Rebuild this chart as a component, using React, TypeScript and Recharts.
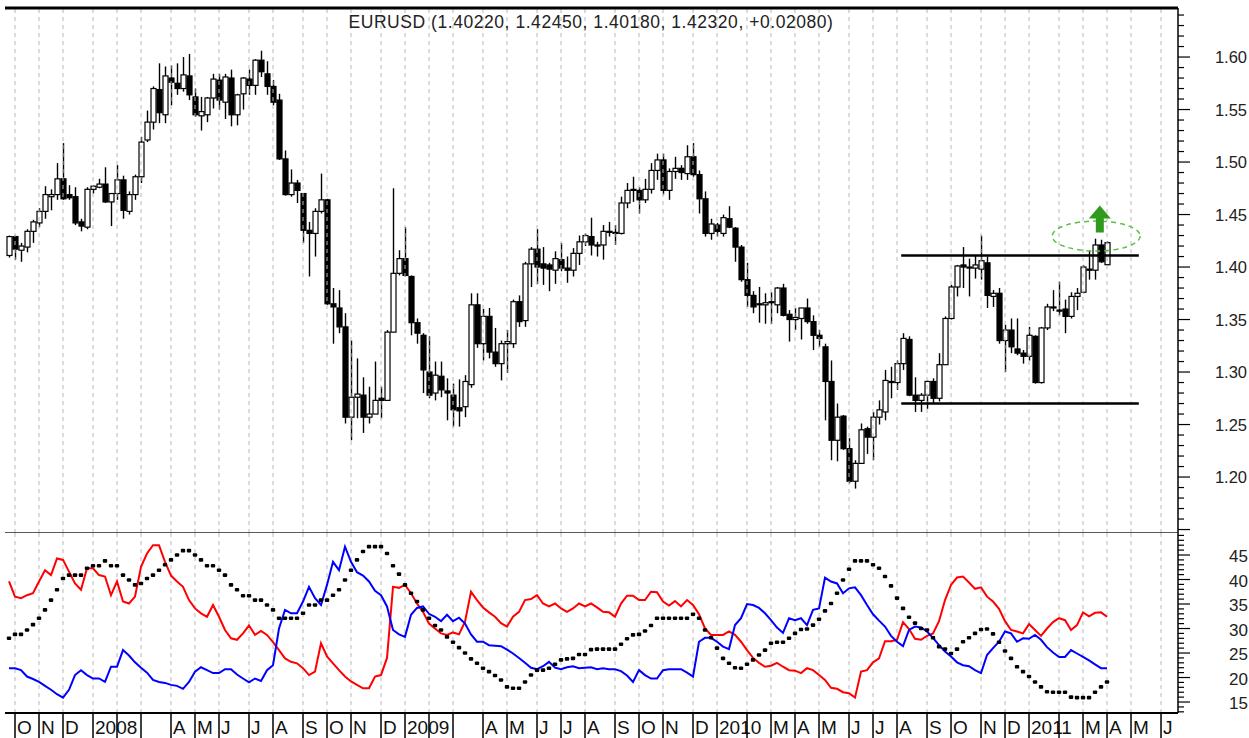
import React from 'react';
import { ComposedChart, Bar, Line, XAxis, YAxis, ReferenceLine, ReferenceDot } from 'recharts';

// weekly EURUSD bars, first bar = week of 2007-09-24
const START = Date.UTC(2007, 8, 24);
const DAY = 24 * 3600 * 1000;

const opens = [
  1.411, 1.429, 1.416, 1.419, 1.434, 1.442, 1.453, 1.467, 1.469, 1.484,
  1.469, 1.467, 1.443, 1.438, 1.474, 1.476, 1.479, 1.462, 1.470, 1.483,
  1.453, 1.469, 1.486, 1.521, 1.538, 1.569, 1.545, 1.580, 1.575, 1.570,
  1.582, 1.562, 1.544, 1.545, 1.561, 1.578, 1.557, 1.580, 1.545, 1.565,
  1.579, 1.573, 1.597, 1.584, 1.572, 1.559, 1.503, 1.469, 1.480, 1.470,
  1.435, 1.432, 1.453, 1.464, 1.365, 1.361, 1.343, 1.257, 1.276, 1.278,
  1.257, 1.260, 1.275, 1.273, 1.338, 1.394, 1.408, 1.391, 1.347, 1.335,
  1.300, 1.280, 1.296, 1.282, 1.278, 1.266, 1.267, 1.288, 1.364, 1.327,
  1.353, 1.319, 1.308, 1.327, 1.327, 1.367, 1.349, 1.403, 1.417, 1.403,
  1.402, 1.397, 1.407, 1.399, 1.397, 1.413, 1.424, 1.429, 1.421, 1.421,
  1.433, 1.433, 1.432, 1.461, 1.474, 1.473, 1.464, 1.474, 1.492, 1.502,
  1.473, 1.491, 1.494, 1.489, 1.505, 1.488, 1.465, 1.432, 1.440, 1.432,
  1.446, 1.437, 1.419, 1.388, 1.373, 1.365, 1.364, 1.366, 1.364, 1.380,
  1.355, 1.350, 1.351, 1.361, 1.348, 1.335, 1.324, 1.291, 1.235, 1.258,
  1.227, 1.196, 1.213, 1.246, 1.238, 1.257, 1.262, 1.291, 1.290, 1.308,
  1.331, 1.278, 1.273, 1.278, 1.291, 1.275, 1.307, 1.351, 1.381, 1.402,
  1.400, 1.399, 1.398, 1.404, 1.372, 1.375, 1.330, 1.340, 1.322, 1.318,
  1.315, 1.334, 1.290, 1.342, 1.362, 1.359, 1.360, 1.353, 1.372, 1.376,
  1.398, 1.397, 1.421, 1.4022,
];
const highs = [
  1.430, 1.430, 1.423, 1.436, 1.445, 1.456, 1.477, 1.474, 1.499, 1.518,
  1.478, 1.476, 1.446, 1.476, 1.478, 1.484, 1.495, 1.470, 1.497, 1.487,
  1.472, 1.488, 1.524, 1.549, 1.572, 1.594, 1.591, 1.592, 1.594, 1.600,
  1.603, 1.570, 1.562, 1.562, 1.584, 1.584, 1.584, 1.588, 1.565, 1.581,
  1.588, 1.598, 1.606, 1.596, 1.578, 1.565, 1.511, 1.493, 1.483, 1.470,
  1.443, 1.456, 1.489, 1.465, 1.380, 1.378, 1.356, 1.330, 1.313, 1.295,
  1.286, 1.310, 1.286, 1.340, 1.475, 1.416, 1.438, 1.392, 1.351, 1.337,
  1.334, 1.310, 1.310, 1.294, 1.289, 1.293, 1.297, 1.375, 1.375, 1.360,
  1.361, 1.342, 1.330, 1.340, 1.369, 1.373, 1.405, 1.419, 1.436, 1.419,
  1.404, 1.415, 1.423, 1.410, 1.418, 1.430, 1.432, 1.447, 1.424, 1.440,
  1.443, 1.440, 1.467, 1.480, 1.486, 1.476, 1.484, 1.499, 1.508, 1.508,
  1.494, 1.505, 1.497, 1.516, 1.518, 1.492, 1.472, 1.446, 1.442, 1.450,
  1.458, 1.438, 1.421, 1.404, 1.377, 1.381, 1.375, 1.376, 1.381, 1.384,
  1.359, 1.361, 1.361, 1.370, 1.354, 1.340, 1.327, 1.311, 1.270, 1.259,
  1.237, 1.216, 1.251, 1.248, 1.262, 1.273, 1.302, 1.305, 1.311, 1.337,
  1.334, 1.295, 1.280, 1.292, 1.294, 1.318, 1.353, 1.383, 1.402, 1.419,
  1.408, 1.411, 1.430, 1.410, 1.378, 1.380, 1.345, 1.351, 1.351, 1.321,
  1.343, 1.335, 1.343, 1.365, 1.378, 1.386, 1.369, 1.376, 1.380, 1.402,
  1.416, 1.427, 1.426, 1.4245,
];
const lows = [
  1.409, 1.407, 1.405, 1.414, 1.423, 1.438, 1.446, 1.454, 1.464, 1.464,
  1.464, 1.440, 1.434, 1.436, 1.470, 1.475, 1.461, 1.439, 1.464, 1.446,
  1.450, 1.464, 1.480, 1.519, 1.531, 1.537, 1.537, 1.554, 1.564, 1.567,
  1.559, 1.543, 1.530, 1.538, 1.551, 1.550, 1.541, 1.534, 1.535, 1.550,
  1.564, 1.564, 1.581, 1.564, 1.554, 1.502, 1.468, 1.467, 1.461, 1.423,
  1.391, 1.410, 1.451, 1.364, 1.327, 1.337, 1.251, 1.235, 1.256, 1.242,
  1.251, 1.260, 1.256, 1.273, 1.338, 1.392, 1.391, 1.335, 1.327, 1.280,
  1.275, 1.273, 1.276, 1.254, 1.248, 1.248, 1.257, 1.285, 1.323, 1.311,
  1.313, 1.305, 1.292, 1.299, 1.323, 1.343, 1.343, 1.381, 1.384, 1.383,
  1.377, 1.384, 1.396, 1.385, 1.391, 1.402, 1.420, 1.411, 1.410, 1.407,
  1.429, 1.421, 1.431, 1.456, 1.462, 1.451, 1.461, 1.470, 1.483, 1.469,
  1.464, 1.484, 1.483, 1.483, 1.486, 1.451, 1.429, 1.426, 1.429, 1.429,
  1.437, 1.405, 1.386, 1.362, 1.356, 1.347, 1.346, 1.346, 1.356, 1.353,
  1.329, 1.340, 1.331, 1.346, 1.321, 1.324, 1.254, 1.216, 1.215, 1.226,
  1.194, 1.189, 1.213, 1.222, 1.216, 1.250, 1.254, 1.275, 1.283, 1.302,
  1.277, 1.262, 1.262, 1.265, 1.270, 1.272, 1.307, 1.350, 1.372, 1.380,
  1.372, 1.389, 1.388, 1.361, 1.362, 1.327, 1.300, 1.318, 1.316, 1.308,
  1.311, 1.289, 1.289, 1.340, 1.358, 1.354, 1.337, 1.351, 1.359, 1.375,
  1.388, 1.388, 1.404, 1.4018,
];
const closes = [
  1.429, 1.417, 1.420, 1.434, 1.443, 1.453, 1.469, 1.469, 1.484, 1.465,
  1.466, 1.442, 1.439, 1.474, 1.477, 1.479, 1.462, 1.470, 1.483, 1.454,
  1.469, 1.486, 1.519, 1.538, 1.570, 1.547, 1.582, 1.576, 1.570, 1.583,
  1.564, 1.545, 1.548, 1.561, 1.579, 1.559, 1.581, 1.545, 1.564, 1.580,
  1.573, 1.597, 1.586, 1.572, 1.557, 1.503, 1.469, 1.480, 1.473, 1.435,
  1.432, 1.453, 1.464, 1.365, 1.362, 1.343, 1.257, 1.276, 1.279, 1.257,
  1.260, 1.273, 1.273, 1.338, 1.394, 1.408, 1.392, 1.347, 1.337, 1.302,
  1.278, 1.297, 1.283, 1.280, 1.264, 1.263, 1.291, 1.364, 1.327, 1.353,
  1.319, 1.308, 1.327, 1.329, 1.367, 1.348, 1.403, 1.417, 1.400, 1.399,
  1.398, 1.408, 1.399, 1.397, 1.413, 1.424, 1.430, 1.421, 1.420, 1.434,
  1.434, 1.432, 1.461, 1.473, 1.473, 1.464, 1.474, 1.492, 1.502, 1.473,
  1.491, 1.494, 1.490, 1.505, 1.488, 1.465, 1.432, 1.441, 1.434, 1.447,
  1.438, 1.419, 1.388, 1.373, 1.362, 1.364, 1.366, 1.367, 1.380, 1.354,
  1.350, 1.352, 1.361, 1.348, 1.335, 1.332, 1.291, 1.235, 1.257, 1.227,
  1.196, 1.213, 1.245, 1.238, 1.257, 1.264, 1.292, 1.290, 1.308, 1.332,
  1.278, 1.273, 1.278, 1.291, 1.275, 1.307, 1.351, 1.381, 1.401, 1.400,
  1.399, 1.402, 1.406, 1.373, 1.375, 1.330, 1.340, 1.324, 1.318, 1.315,
  1.335, 1.290, 1.342, 1.362, 1.361, 1.358, 1.353, 1.372, 1.375, 1.400,
  1.397, 1.421, 1.405, 1.4232,
];

// directional movement indicator (weekly)
const plusDI = [
  39.6, 36.5, 36.2, 36.8, 37.2, 39.6, 41.9, 40.9, 44.3, 44.0,
  41.6, 39.2, 37.9, 42.3, 42.3, 40.9, 40.6, 36.8, 39.6, 35.5,
  35.1, 36.5, 42.6, 45.3, 47.0, 47.0, 43.6, 40.8, 39.6, 38.5,
  35.8, 34.1, 33.1, 32.4, 34.8, 32.4, 29.7, 28.0, 27.7, 29.0,
  30.6, 28.7, 29.5, 28.7, 27.2, 25.6, 23.9, 23.2, 22.9, 21.9,
  20.5, 21.2, 27.0, 24.3, 22.9, 21.5, 20.2, 19.2, 18.5, 17.8,
  17.8, 20.2, 20.5, 24.0, 38.5, 38.3, 38.9, 37.2, 35.1, 33.4,
  31.0, 30.0, 29.0, 28.7, 29.2, 28.8, 31.4, 37.5, 35.8, 34.3,
  33.3, 32.4, 31.1, 30.4, 32.4, 33.4, 35.8, 36.0, 36.8, 35.1,
  34.5, 35.1, 34.1, 33.4, 34.1, 35.1, 34.5, 35.1, 34.3, 33.4,
  33.3, 32.4, 35.1, 36.7, 36.7, 35.8, 35.8, 37.5, 37.4, 35.5,
  34.7, 35.6, 34.5, 35.8, 34.8, 32.9, 30.0, 28.7, 28.7, 28.7,
  29.4, 28.7, 27.3, 25.6, 24.0, 23.0, 22.2, 22.4, 23.0, 22.2,
  21.5, 21.4, 20.9, 21.9, 21.5, 20.5, 19.5, 17.9, 17.7, 17.0,
  16.8, 15.9, 21.2, 21.5, 23.1, 23.9, 27.4, 27.4, 27.7, 31.3,
  29.9, 27.9, 27.7, 28.5, 29.0, 31.5, 35.8, 38.9, 40.4, 40.6,
  39.4, 38.1, 38.4, 36.5, 35.5, 34.0, 31.5, 29.7, 29.4, 29.0,
  30.9, 29.7, 28.5, 30.0, 31.3, 32.1, 31.7, 29.7, 30.7, 33.3,
  32.5, 33.2, 33.3, 32.4,
];
const minusDI = [
  21.9, 21.9, 21.5, 20.2, 19.7, 19.1, 18.3, 17.5, 16.6, 15.9,
  17.5, 20.5, 21.5, 20.5, 19.8, 19.8, 19.1, 22.2, 22.2, 25.6,
  24.5, 23.1, 22.0, 21.0, 19.5, 19.1, 18.9, 18.5, 18.3, 17.7,
  19.1, 21.2, 22.1, 21.5, 20.9, 20.9, 21.7, 21.7, 20.6, 19.8,
  19.0, 19.8, 19.3, 21.5, 22.5, 30.0, 33.8, 33.1, 33.1, 35.5,
  38.5, 36.2, 34.8, 38.9, 43.6, 41.9, 46.7, 43.6, 41.5, 40.8,
  39.6, 37.7, 36.8, 34.5, 29.7, 28.8, 28.3, 32.8, 34.2, 34.5,
  33.0, 32.4, 31.5, 32.8, 31.5, 32.2, 31.0, 28.8, 27.3, 27.3,
  26.6, 26.5, 26.4, 25.7, 24.9, 24.0, 23.0, 22.0, 21.7, 22.3,
  23.2, 22.0, 21.7, 22.1, 22.3, 21.9, 22.0, 22.1, 21.7, 21.9,
  21.7, 21.7, 21.3, 20.4, 19.1, 21.5, 20.5, 19.8, 19.8, 21.5,
  21.7, 21.7, 21.7, 21.0, 20.2, 27.3, 28.1, 28.1, 27.3, 26.3,
  25.8, 30.7, 32.1, 35.0, 34.8, 34.2, 33.1, 31.7, 30.2, 29.1,
  32.1, 31.7, 32.1, 30.7, 33.8, 34.1, 40.4, 39.6, 39.2, 37.2,
  38.2, 38.4, 36.8, 34.8, 32.9, 31.6, 30.4, 28.5, 27.3, 26.4,
  29.7, 30.4, 30.2, 29.4, 28.1, 26.6, 25.3, 24.3, 23.1, 22.5,
  22.3, 21.5, 20.9, 24.6, 26.0, 27.3, 29.4, 29.0, 27.3, 28.0,
  27.9, 28.7, 27.7, 26.2, 25.1, 24.2, 24.2, 25.6, 24.9, 24.2,
  23.5, 22.7, 21.9, 21.9,
];
const adx = [
  28.0, 28.8, 28.8, 29.7, 30.8, 32.1, 33.8, 35.8, 37.9, 40.2,
  40.9, 40.9, 40.9, 42.3, 42.8, 42.8, 43.8, 42.8, 42.8, 40.9,
  39.9, 38.9, 39.2, 40.2, 40.9, 41.9, 43.0, 44.0, 45.0, 45.9,
  45.9, 45.0, 44.0, 42.8, 42.8, 41.9, 40.9, 38.9, 37.9, 36.7,
  36.7, 35.8, 35.8, 34.8, 33.8, 32.1, 32.1, 32.1, 32.1, 33.1,
  34.8, 34.8, 35.8, 35.8, 36.8, 37.9, 39.9, 41.9, 44.0, 45.7,
  46.7, 46.7, 46.7, 45.3, 42.8, 41.1, 38.9, 37.2, 35.5, 33.8,
  32.1, 30.6, 29.7, 28.3, 27.2, 26.1, 25.0, 23.8, 22.9, 21.9,
  21.2, 20.4, 19.5, 18.1, 17.8, 17.8, 19.1, 20.5, 21.5, 21.5,
  21.9, 22.7, 23.6, 23.8, 23.9, 24.7, 24.7, 25.7, 25.8, 25.8,
  25.8, 25.8, 26.8, 27.9, 28.7, 28.8, 29.5, 30.6, 32.1, 32.1,
  32.1, 32.1, 32.1, 32.1, 32.9, 32.1, 29.7, 28.1, 26.0, 23.9,
  22.9, 22.0, 21.9, 22.7, 23.6, 24.6, 25.6, 27.0, 27.2, 27.2,
  28.0, 29.0, 29.8, 29.9, 30.7, 31.9, 33.6, 35.1, 37.2, 39.9,
  42.1, 43.8, 43.8, 43.8, 43.0, 42.3, 40.6, 38.7, 36.2, 34.1,
  32.3, 31.1, 30.0, 29.7, 28.1, 26.3, 25.8, 24.9, 25.8, 27.3,
  28.1, 29.0, 29.8, 29.9, 28.9, 27.2, 25.4, 23.9, 22.2, 21.2,
  20.2, 19.1, 18.1, 17.1, 17.0, 17.0, 17.0, 16.0, 15.9, 15.9,
  15.9, 17.0, 18.1, 19.1,
];

// month strip labels, Oct 2007 .. Jun 2011 (blank where the label is suppressed)
const monthLabels = [
  'O', 'N', 'D',
  '2008', '', '', 'A', 'M', 'J', 'J', 'A', 'S', 'O', 'N', 'D',
  '2009', '', '', 'A', 'M', 'J', 'J', 'A', 'S', 'O', 'N', 'D',
  '2010', '', 'M', 'A', 'M', 'J', 'J', 'A', 'S', 'O', 'N', 'D',
  '2011', '', 'M', 'A', 'M', 'J',
];

const titleText = 'EURUSD (1.40220, 1.42450, 1.40180, 1.42320, +0.02080)';

// trading range + breakout annotation
const rangeTop = 1.411;
const rangeBottom = 1.270;
const rangeFrom = 149.7;
const rangeTo = 189.3;

const rows = opens.map((o, k) => ({
  i: k + 1,
  open: o,
  high: highs[k],
  low: lows[k],
  close: closes[k],
  range: [lows[k], highs[k]],
  plusDI: plusDI[k],
  minusDI: minusDI[k],
  adx: adx[k],
}));

// a month starts on the first weekly bar whose Sunday falls inside it
const monthStarts: number[] = [];
{
  let prev = -1;
  for (let i = 1; i <= 195; i++) {
    const m = new Date(START + ((i - 1) * 7 + 6) * DAY).getUTCMonth();
    if (prev !== -1 && m !== prev) monthStarts.push(i);
    prev = m;
  }
}
const labelAt: Record<number, string> = {};
monthStarts.forEach((t, k) => { labelAt[t] = monthLabels[k] ?? ''; });

const X_DOMAIN: [number, number] = [1 / 3, 195.83];
const P_DOMAIN: [number, number] = [1.1467, 1.6467];
const I_DOMAIN: [number, number] = [12.76, 49.49];

const priceTicks: number[] = [];
for (let c = 115; c <= 164; c++) priceTicks.push(c / 100);
const indTicks: number[] = [];
for (let v = 13; v <= 49; v++) indTicks.push(v);

const FONT = '"Liberation Sans", Arial, sans-serif';

function Candle(props: any) {
  const { x, y, width, height, payload } = props;
  if (x == null || !payload) return null;
  const top = Math.min(y, y + height);
  const h = Math.abs(height);
  const { open, close, high, low } = payload;
  const k = high === low ? 0 : h / (high - low);
  const yOf = (v: number) => top + (high - v) * k;
  const cx = x + width / 2;
  const up = close >= open;
  const bTop = yOf(Math.max(open, close));
  const bBot = yOf(Math.min(open, close));
  return (
    <g>
      <line x1={cx} x2={cx} y1={top} y2={top + h} stroke="#000" strokeWidth={1.4} />
      <rect
        x={cx - 2.5}
        y={bTop}
        width={5}
        height={Math.max(bBot - bTop, 1)}
        fill={up ? '#fff' : '#000'}
        stroke="#000"
        strokeWidth={1.2}
      />
    </g>
  );
}

function PriceTick({ x, y, payload }: any) {
  const c = Math.round(payload.value * 100);
  const major = c % 5 === 0;
  return (
    <g>
      <line x1={x} x2={x + (major ? 12 : 6)} y1={y} y2={y} stroke="#000" strokeWidth={1.2} />
      {major && c >= 120 && c <= 160 && (
        <text x={x + 69} y={y + 6} textAnchor="end" fontSize={16.5} fontFamily={FONT} fill="#222">
          {payload.value.toFixed(2)}
        </text>
      )}
    </g>
  );
}

function IndTick({ x, y, payload }: any) {
  const v = payload.value;
  const major = v % 5 === 0;
  return (
    <g>
      <line x1={x} x2={x + (major ? 12 : 6)} y1={y} y2={y} stroke="#000" strokeWidth={1.2} />
      {major && v >= 15 && v <= 45 && (
        <text x={x + 70} y={y + 7} textAnchor="end" fontSize={17} fontFamily={FONT} fill="#222">
          {v}
        </text>
      )}
    </g>
  );
}

function MonthTick({ x, y, payload }: any) {
  return (
    <g>
      <text x={x + 2} y={y + 21} fontSize={19} fontFamily={FONT} fill="#111">
        {labelAt[payload.value]}
      </text>
      <line x1={x} x2={x} y1={y} y2={y + 25} stroke="#000" strokeWidth={1.5} />
    </g>
  );
}

const AdxDot = (p: any) =>
  p.cx == null || p.cy == null ? null : (
    <rect key={`adx-${p.index}`} x={p.cx - 2.2} y={p.cy - 1.8} width={4.4} height={3.6} rx={1} fill="#000" />
  );

const BreakoutRing = (p: any) => (
  <ellipse cx={p.cx} cy={p.cy} rx={44} ry={15} fill="none" stroke="#5cc043" strokeWidth={1.5} strokeDasharray="5 4" />
);

const BreakoutArrow = (p: any) => (
  <polygon
    points={`${p.cx},${p.cy - 13} ${p.cx + 11},${p.cy} ${p.cx + 4},${p.cy} ${p.cx + 4},${p.cy + 14} ${p.cx - 4},${p.cy + 14} ${p.cx - 4},${p.cy} ${p.cx - 11},${p.cy}`}
    fill="#2f9a1e"
  />
);

export default function App() {
  const grid = monthStarts.map((t) => (
    <ReferenceLine key={`g${t}`} x={t} stroke="#b8b8b8" strokeWidth={1} strokeDasharray="4 4" />
  ));
  return (
    <div style={{ position: 'absolute', left: 0, top: 0, width: 1249, height: 738, background: '#fff', overflow: 'hidden' }}>
      <ComposedChart width={1249} height={533} data={rows} margin={{ top: 8, right: 0, bottom: 0, left: 5 }}>
        <XAxis dataKey="i" type="number" domain={X_DOMAIN} hide allowDataOverflow />
        <YAxis
          orientation="right"
          domain={P_DOMAIN}
          ticks={priceTicks}
          interval={0}
          width={71}
          tick={<PriceTick />}
          tickLine={false}
          tickSize={0}
          tickMargin={0}
          axisLine={{ stroke: '#000', strokeWidth: 1.5 }}
          allowDataOverflow
        />
        {grid}
        <ReferenceLine y={P_DOMAIN[1]} stroke="#000" strokeWidth={3} />
        <ReferenceLine y={P_DOMAIN[0]} stroke="#222" strokeWidth={1.5} />
        <Bar dataKey="range" barSize={5} shape={<Candle />} isAnimationActive={false} />
        <ReferenceLine segment={[{ x: rangeFrom, y: rangeTop }, { x: rangeTo, y: rangeTop }]} stroke="#000" strokeWidth={2.5} />
        <ReferenceLine segment={[{ x: rangeFrom, y: rangeBottom }, { x: rangeTo, y: rangeBottom }]} stroke="#000" strokeWidth={2.5} />
        <ReferenceDot x={182.2} y={1.4295} shape={BreakoutRing} />
        <ReferenceDot x={182.8} y={1.4462} shape={BreakoutArrow} />
      </ComposedChart>
      <div style={{ position: 'absolute', left: 0, top: 533 }}>
        <ComposedChart width={1249} height={205} data={rows} margin={{ top: 0, right: 0, bottom: 0, left: 5 }}>
          <XAxis
            dataKey="i"
            type="number"
            domain={X_DOMAIN}
            ticks={monthStarts}
            interval={0}
            height={25}
            tick={<MonthTick />}
            tickLine={false}
            tickSize={0}
            tickMargin={0}
            axisLine={{ stroke: '#000', strokeWidth: 2 }}
            allowDataOverflow
          />
          <YAxis
            orientation="right"
            domain={I_DOMAIN}
            ticks={indTicks}
            interval={0}
            width={71}
            tick={<IndTick />}
            tickLine={false}
            tickSize={0}
            tickMargin={0}
            axisLine={{ stroke: '#000', strokeWidth: 1.5 }}
            allowDataOverflow
          />
          {grid}
          <Line dataKey="plusDI" stroke="#ff0000" strokeWidth={2} dot={false} activeDot={false} isAnimationActive={false} />
          <Line dataKey="minusDI" stroke="#0000ff" strokeWidth={2} dot={false} activeDot={false} isAnimationActive={false} />
          <Line dataKey="adx" stroke="none" dot={AdxDot} activeDot={false} isAnimationActive={false} />
        </ComposedChart>
      </div>
      <div
        style={{
          position: 'absolute',
          top: 12,
          left: 0,
          width: 1182,
          textAlign: 'center',
          fontFamily: FONT,
          fontSize: 17.5,
          letterSpacing: 0.55,
          color: '#222',
          whiteSpace: 'nowrap',
        }}
      >
        {titleText}
      </div>
    </div>
  );
}
